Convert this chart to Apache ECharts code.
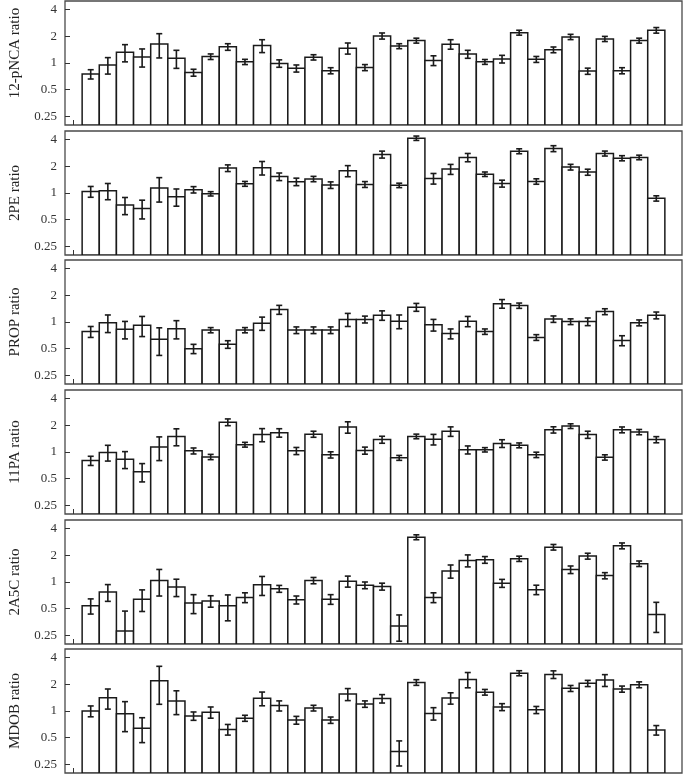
<!DOCTYPE html>
<html>
<head>
<meta charset="utf-8">
<script src="https://cdn.jsdelivr.net/npm/echarts@6/dist/echarts.min.js"></script>
<style>
html, body { margin: 0; padding: 0; background: #fff; }
#chart { width: 685px; height: 778px; }
</style>
</head>
<body>
<div id="chart"></div>
<script>
// 34 samples, one empty slot at each end of the x axis
const categories = Array.from({ length: 36 }, (_, i) => String(i));
const yTicks = [0.25, 0.5, 1, 2, 4];
const yMin = 0.2;
const yMax = 5;

const panelNames = ['12-pNCA ratio', '2PE ratio', 'PROP ratio', '11PA ratio', '2A5C ratio', 'MDOB ratio'];

const pNCA = [0.75, 0.95, 1.32, 1.17, 1.64, 1.13, 0.78, 1.18, 1.52, 1.03, 1.57, 0.99, 0.87, 1.16, 0.82, 1.47, 0.89, 2.02, 1.55, 1.79, 1.07, 1.63, 1.26, 1.03, 1.11, 2.20, 1.10, 1.41, 1.97, 0.81, 1.87, 0.82, 1.79, 2.34];
const pNCAErr = [0.09, 0.20, 0.29, 0.27, 0.50, 0.26, 0.07, 0.085, 0.13, 0.07, 0.26, 0.095, 0.08, 0.08, 0.065, 0.21, 0.07, 0.16, 0.10, 0.115, 0.135, 0.20, 0.13, 0.065, 0.11, 0.14, 0.085, 0.105, 0.135, 0.065, 0.125, 0.065, 0.115, 0.17];

const pe = [1.04, 1.06, 0.73, 0.67, 1.14, 0.91, 1.09, 0.98, 1.91, 1.27, 1.93, 1.53, 1.34, 1.44, 1.23, 1.78, 1.25, 2.72, 1.22, 4.15, 1.46, 1.86, 2.52, 1.63, 1.28, 2.96, 1.35, 3.17, 1.96, 1.72, 2.79, 2.47, 2.52, 0.87];
const peErr = [0.145, 0.22, 0.16, 0.16, 0.35, 0.20, 0.09, 0.055, 0.165, 0.08, 0.335, 0.15, 0.13, 0.10, 0.105, 0.255, 0.095, 0.245, 0.07, 0.235, 0.20, 0.24, 0.27, 0.095, 0.115, 0.19, 0.095, 0.245, 0.145, 0.135, 0.18, 0.165, 0.15, 0.06];

const prop = [0.78, 0.98, 0.83, 0.92, 0.64, 0.84, 0.50, 0.81, 0.56, 0.81, 0.97, 1.38, 0.81, 0.81, 0.81, 1.07, 1.07, 1.19, 1.02, 1.47, 0.93, 0.74, 1.02, 0.78, 1.61, 1.53, 0.67, 1.08, 1.01, 1.01, 1.31, 0.62, 0.98, 1.19];
const propErr = [0.11, 0.22, 0.185, 0.235, 0.22, 0.195, 0.06, 0.055, 0.055, 0.055, 0.165, 0.16, 0.07, 0.07, 0.07, 0.18, 0.095, 0.145, 0.18, 0.15, 0.14, 0.095, 0.135, 0.055, 0.18, 0.105, 0.05, 0.09, 0.075, 0.10, 0.10, 0.08, 0.075, 0.105];

const pa11 = [0.80, 0.99, 0.83, 0.60, 1.14, 1.50, 1.03, 0.88, 2.17, 1.21, 1.57, 1.65, 1.03, 1.59, 0.93, 1.91, 1.04, 1.38, 0.86, 1.50, 1.39, 1.71, 1.06, 1.06, 1.25, 1.19, 0.93, 1.78, 1.96, 1.57, 0.87, 1.78, 1.68, 1.38];
const pa11Err = [0.095, 0.20, 0.18, 0.14, 0.34, 0.325, 0.08, 0.06, 0.19, 0.075, 0.265, 0.18, 0.095, 0.125, 0.075, 0.28, 0.095, 0.125, 0.055, 0.09, 0.19, 0.21, 0.11, 0.06, 0.125, 0.075, 0.065, 0.145, 0.12, 0.145, 0.06, 0.135, 0.115, 0.11];

const a5c = [0.54, 0.77, 0.28, 0.64, 1.04, 0.88, 0.58, 0.61, 0.54, 0.67, 0.93, 0.84, 0.63, 1.04, 0.64, 1.02, 0.92, 0.89, 0.32, 3.20, 0.67, 1.33, 1.75, 1.78, 0.97, 1.83, 0.82, 2.47, 1.38, 1.96, 1.18, 2.56, 1.61, 0.43];
const a5cErr = [0.105, 0.165, 0.19, 0.175, 0.345, 0.195, 0.14, 0.09, 0.175, 0.085, 0.225, 0.075, 0.065, 0.085, 0.08, 0.145, 0.08, 0.08, 0.105, 0.205, 0.085, 0.225, 0.27, 0.155, 0.10, 0.125, 0.10, 0.18, 0.135, 0.15, 0.095, 0.195, 0.115, 0.16];

const mdob = [1.00, 1.41, 0.93, 0.64, 2.19, 1.30, 0.88, 0.97, 0.62, 0.83, 1.39, 1.15, 0.79, 1.08, 0.79, 1.55, 1.20, 1.38, 0.35, 2.10, 0.94, 1.40, 2.27, 1.63, 1.11, 2.67, 1.03, 2.58, 1.80, 2.05, 2.23, 1.77, 1.98, 0.61];
const mdobErr = [0.14, 0.36, 0.345, 0.20, 1.00, 0.39, 0.095, 0.14, 0.085, 0.065, 0.245, 0.15, 0.08, 0.08, 0.065, 0.24, 0.10, 0.15, 0.11, 0.155, 0.15, 0.205, 0.445, 0.12, 0.10, 0.175, 0.095, 0.255, 0.14, 0.165, 0.34, 0.14, 0.15, 0.075];

const panelValues = [pNCA, pe, prop, pa11, a5c, mdob];
const panelErrors = [pNCAErr, peErr, propErr, pa11Err, a5cErr, mdobErr];

const gridTops = [1, 131, 260, 390, 520, 649];
const serif = "'Times New Roman', 'Liberation Serif', serif";

// bar plus its error bar, drawn through the axes' own scales
function renderBar(params, api) {
    const x = api.value(0);
    const v = api.value(1);
    const e = api.value(2);
    const w = api.size([1, 0])[0];
    const top = api.coord([x, v]);
    const base = api.coord([x, yMin]);
    const lowClipped = v - e <= yMin;
    const hi = api.coord([x, v + e]);
    const lo = api.coord([x, lowClipped ? yMin : v - e]);
    const cap = 3;
    const lineStyle = { stroke: '#1a1a1a', lineWidth: 1.6 };
    const children = [
        {
            type: 'rect',
            shape: { x: top[0] - w / 2, y: top[1], width: w, height: base[1] - top[1] },
            style: { fill: '#fff', stroke: '#1a1a1a', lineWidth: 1.5 }
        },
        { type: 'line', shape: { x1: hi[0], y1: hi[1], x2: lo[0], y2: lo[1] }, style: lineStyle },
        { type: 'line', shape: { x1: hi[0] - cap, y1: hi[1], x2: hi[0] + cap, y2: hi[1] }, style: lineStyle }
    ];
    if (!lowClipped) {
        children.push({ type: 'line', shape: { x1: lo[0] - cap, y1: lo[1], x2: lo[0] + cap, y2: lo[1] }, style: lineStyle });
    }
    return { type: 'group', children: children };
}

const grid = [];
const xAxis = [];
const yAxis = [];
const series = [];

panelNames.forEach((name, k) => {
    grid.push({
        left: 64,
        width: 618,
        top: gridTops[k],
        height: 124,
        show: true,
        borderColor: '#4a4a4a',
        borderWidth: 1.3,
        backgroundColor: '#fff'
    });
    xAxis.push({
        type: 'category',
        gridIndex: k,
        data: categories,
        boundaryGap: true,
        axisLine: { show: false },
        axisLabel: { show: false },
        axisTick: {
            show: true,
            inside: true,
            length: 5,
            alignWithLabel: true,
            interval: (index) => index < categories.length - 1,
            lineStyle: { color: '#333', width: 1 }
        },
        splitLine: { show: false }
    });
    yAxis.push({
        type: 'log',
        logBase: 2,
        gridIndex: k,
        min: yMin,
        max: yMax,
        name: name,
        nameLocation: 'middle',
        nameGap: 42,
        nameTextStyle: {
            fontFamily: serif,
            fontSize: 15,
            color: '#222',
            // first panel's label sits a little higher in the original
            padding: k === 0 ? [0, 0, 0, 20] : 0
        },
        axisLine: { show: false },
        axisTick: {
            show: true,
            inside: true,
            length: 5,
            customValues: yTicks,
            lineStyle: { color: '#333', width: 1 }
        },
        axisLabel: {
            show: true,
            customValues: yTicks,
            margin: 8,
            fontFamily: serif,
            fontSize: 13,
            color: '#333',
            formatter: (v) => String(Math.round(v * 100) / 100)
        },
        splitLine: { show: false }
    });
    series.push({
        type: 'custom',
        xAxisIndex: k,
        yAxisIndex: k,
        renderItem: renderBar,
        clip: true,
        encode: { x: 0, y: 1 },
        data: panelValues[k].map((v, i) => [i + 1, v, panelErrors[k][i]])
    });
});

const chart = echarts.init(document.getElementById('chart'));
chart.setOption({
    backgroundColor: '#fff',
    animation: false,
    grid: grid,
    xAxis: xAxis,
    yAxis: yAxis,
    series: series
});
</script>
</body>
</html>
